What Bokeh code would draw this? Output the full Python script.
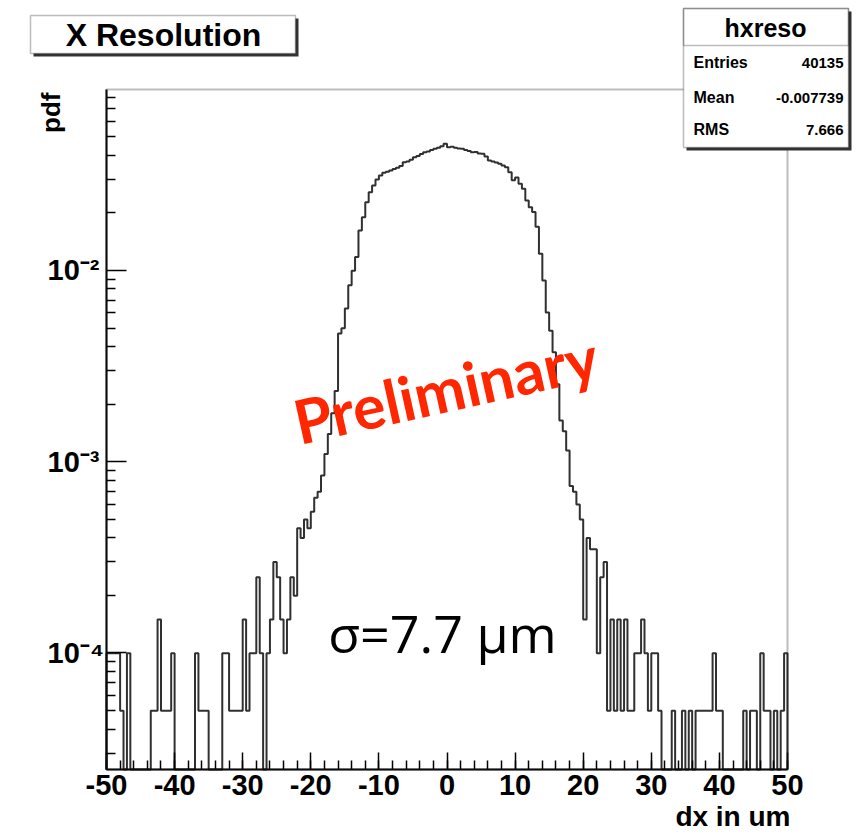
import math
from bokeh.plotting import figure
from bokeh.models import (Label, BoxAnnotation, SingleIntervalTicker, FixedTicker,
                          CustomJSTickFormatter, Range1d, LinearAxis, LogAxis)
from bokeh.embed import file_html
from bokeh.resources import INLINE

# ---------------- data ----------------
N_ENTRIES = 40135
BIN_WIDTH = 0.5
X_MIN, X_MAX = -50.0, 50.0
Y_MIN, Y_MAX = 2.46e-5, 0.0883

# counts per 0.5 um bin, from -50 to -22.5
counts_left_tail = [2, 2, 2, 2, 1, 0, 2, 0, 0, 0, 0, 0, 0, 1, 1, 3, 1, 1, 1, 2,
                    0, 0, 0, 0, 0, 0, 2, 1, 1, 1, 0, 0, 0, 0, 2, 2, 1, 1, 1, 1,
                    3, 1, 2, 2, 5, 2, 0, 2, 3, 6, 5, 3, 2, 3, 5, 4]
# from -22 to 21.5
counts_core = [9, 8, 10, 9, 11, 13, 14, 17, 22, 28, 36, 47, 94, 100, 127, 168,
               200, 236, 325, 381, 456, 515, 558, 600, 630, 650, 658, 668, 680,
               690, 705, 738, 745, 760, 785, 795, 815, 833, 840, 855, 868, 880,
               895, 922, 885, 890, 878, 872, 868, 855, 845, 833, 835, 820, 817,
               790, 754, 745, 735, 725, 710, 696, 655, 595, 615, 570, 537, 466,
               430, 405, 340, 245, 178, 121, 97, 75, 51, 33, 29, 23, 15, 14, 12,
               10, 3, 8, 7, 7]
# from 22 to 49.5
counts_right_tail = [2, 5, 6, 1, 3, 1, 3, 1, 3, 1, 1, 2, 2, 3, 2, 1, 2, 2, 1, 0,
                     0, 0, 1, 0, 0, 1, 0, 1, 0, 1, 1, 1, 1, 1, 2, 1, 1, 0, 0, 0,
                     0, 0, 0, 1, 0, 1, 1, 0, 2, 1, 1, 0, 1, 0, 1, 2]

stat_names = ["Entries", "Mean", "RMS"]
stat_values = ["40135", "-0.007739", "7.666"]
hist_name = "hxreso"
title_text = "X Resolution"
x_title = "dx in um"
y_title = "pdf"
y_major_ticks = [1e-4, 1e-3, 1e-2]

counts = counts_left_tail + counts_core + counts_right_tail
assert len(counts) == 200

# ---------------- geometry (page pixels) ----------------
W, H = 856, 835
PX_L, PX_R = 106, 787      # pixel columns of X_MIN, X_MAX
PY_B, PY_T = 769, 89       # pixel rows of Y_MIN, Y_MAX
LY0, LY1 = math.log10(Y_MIN), math.log10(Y_MAX)

def dx(px):
    return X_MIN + (px - PX_L) * (X_MAX - X_MIN) / (PX_R - PX_L)

def dy(py):
    return 10 ** (LY0 + (PY_B - py) * (LY1 - LY0) / (PY_B - PY_T))

p = figure(width=W, height=H, x_range=Range1d(dx(0), dx(W)), y_range=Range1d(dy(H), dy(0)),
           y_axis_type="log", x_axis_location=None, y_axis_location=None,
           output_backend="svg", toolbar_location=None,
           min_border_left=0, min_border_right=0, min_border_top=0, min_border_bottom=0)
p.outline_line_color = None
p.xgrid.visible = False
p.ygrid.visible = False
p.background_fill_color = "white"
p.border_fill_color = "white"

# ---------------- histogram outline (ROOT style) ----------------
xs, ys = [X_MIN], [Y_MIN]
for i, c in enumerate(counts):
    x0 = X_MIN + i * BIN_WIDTH
    x1 = x0 + BIN_WIDTH
    v = c / (N_ENTRIES * BIN_WIDTH) if c > 0 else Y_MIN
    xs += [x0, x1]
    ys += [v, v]
xs.append(X_MAX)
ys.append(Y_MIN)
p.line(xs, ys, line_color="#303030", line_width=2)

# ---------------- axes ----------------
TF = "Liberation Sans"
x_ticker = SingleIntervalTicker(interval=10, num_minor_ticks=5)
minor = [m * 10 ** e for e in range(-5, 0) for m in range(2, 10)]
minor = [v for v in minor if Y_MIN <= v <= Y_MAX]
y_ticker = FixedTicker(ticks=y_major_ticks, minor_ticks=minor)
x_fmt = CustomJSTickFormatter(code="return tick.toFixed(0);")
sup_fmt = CustomJSTickFormatter(code="""
const e = Math.round(Math.log10(tick));
const sup = {'-':'\u207b','0':'\u2070','1':'\u00b9','2':'\u00b2','3':'\u00b3','4':'\u2074',
             '5':'\u2075','6':'\u2076','7':'\u2077','8':'\u2078','9':'\u2079'};
return '10' + String(e).split('').map(c => sup[c]).join('');
""")

label_style = dict(major_label_text_font=TF, major_label_text_font_style="bold",
                   major_label_text_font_size="29px", major_label_text_color="black")

# x axis: line + upward ticks at the bottom of the frame (labels hidden)
x_ticks_axis = LinearAxis(ticker=x_ticker, formatter=x_fmt, fixed_location=Y_MIN,
                          bounds=(X_MIN, X_MAX),
                          axis_line_width=2, axis_line_color="black",
                          major_tick_in=17, major_tick_out=0, minor_tick_in=9, minor_tick_out=0,
                          major_tick_line_width=1.5, minor_tick_line_width=1.5,
                          major_label_standoff=-40, **label_style)
x_ticks_axis.major_label_text_color = None
p.add_layout(x_ticks_axis, "below")
# x tick labels under the frame
x_label_axis = LinearAxis(ticker=x_ticker, formatter=x_fmt, fixed_location=dy(758),
                          bounds=(X_MIN, X_MAX),
                          axis_line_color=None, major_tick_line_color=None,
                          minor_tick_line_color=None, major_tick_in=0, major_tick_out=0,
                          minor_tick_in=0, minor_tick_out=0, major_label_standoff=-36,
                          **label_style)
p.add_layout(x_label_axis, "above")
# y axis: line, ticks pointing right, labels to the left
y_axis = LogAxis(ticker=y_ticker, formatter=sup_fmt, fixed_location=X_MIN, bounds=(Y_MIN, Y_MAX),
                 axis_line_width=2, axis_line_color="black",
                 major_tick_out=20, major_tick_in=0, minor_tick_out=9, minor_tick_in=0,
                 major_tick_line_width=1.5, minor_tick_line_width=1.5,
                 major_label_standoff=-79, **label_style)
p.add_layout(y_axis, "right")

# frame box
p.add_layout(BoxAnnotation(left=X_MIN, right=X_MAX, bottom=Y_MIN, top=Y_MAX,
                           fill_alpha=0, line_color="#222222", line_width=2))

# ---------------- axis titles ----------------
p.add_layout(Label(x=dx(50), y=dy(92), text=y_title, angle=90, angle_units="deg",
                   text_align="right", text_baseline="middle", text_font=TF,
                   text_font_style="bold", text_font_size="26px", text_color="black"))
p.add_layout(Label(x=dx(790), y=dy(816), text=x_title, text_align="right",
                   text_baseline="middle", text_font=TF, text_font_style="bold",
                   text_font_size="28px", text_color="black"))

# ---------------- title box ----------------
p.add_layout(BoxAnnotation(left=dx(33), right=dx(298), top=dy(18), bottom=dy(56),
                           fill_color="#333333", fill_alpha=1, line_color=None))
p.add_layout(BoxAnnotation(left=dx(30), right=dx(295), top=dy(15), bottom=dy(53),
                           fill_color="white", fill_alpha=1, line_color="#222222", line_width=1.5))
p.add_layout(Label(x=dx(163), y=dy(34), text=title_text, text_align="center",
                   text_baseline="middle", text_font=TF, text_font_style="bold",
                   text_font_size="32px", text_color="black"))

# ---------------- stats box ----------------
p.add_layout(BoxAnnotation(left=dx(686), right=dx(851), top=dy(11), bottom=dy(150),
                           fill_color="#333333", fill_alpha=1, line_color=None))
p.add_layout(BoxAnnotation(left=dx(683), right=dx(848), top=dy(8), bottom=dy(147),
                           fill_color="white", fill_alpha=1, line_color="#222222", line_width=1.5))
p.add_layout(BoxAnnotation(left=dx(683), right=dx(848), top=dy(8), bottom=dy(45),
                           fill_alpha=0, line_color="#222222", line_width=1.5))
p.add_layout(Label(x=dx(765), y=dy(27), text=hist_name, text_align="center",
                   text_baseline="middle", text_font=TF, text_font_style="bold",
                   text_font_size="25px", text_color="black"))
row_y = [62, 97, 129]
for name, val, ry in zip(stat_names, stat_values, row_y):
    p.add_layout(Label(x=dx(693), y=dy(ry), text=name, text_align="left",
                       text_baseline="middle", text_font=TF, text_font_style="bold",
                       text_font_size="16px", text_color="black"))
    p.add_layout(Label(x=dx(843), y=dy(ry), text=val, text_align="right",
                       text_baseline="middle", text_font=TF, text_font_style="bold",
                       text_font_size="15px", text_color="black"))

# ---------------- overlays ----------------
p.add_layout(Label(x=dx(445), y=dy(388), text="Preliminary", angle=12.5, angle_units="deg",
                   text_align="center", text_baseline="middle", text_font="Lato",
                   text_font_style="bold", text_font_size="61px", text_color="#ff2600"))
p.add_layout(Label(x=dx(442), y=dy(632), text="σ=7.7 µm", text_align="center",
                   text_baseline="middle", text_font="Open Sans",
                   text_font_size="52px", text_color="black"))

open("out.html", "w").write(file_html(p, INLINE))
